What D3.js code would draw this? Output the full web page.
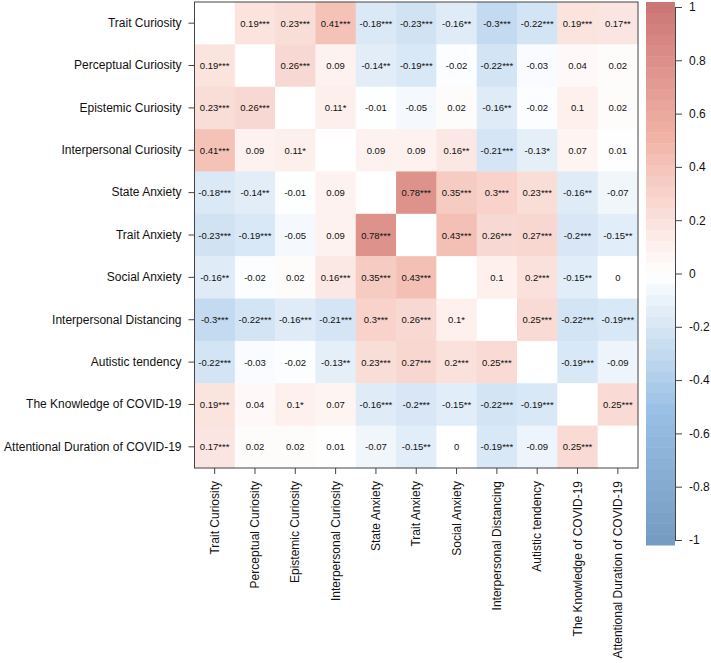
<!DOCTYPE html>
<html>
<head>
<meta charset="utf-8">
<script src="https://cdn.jsdelivr.net/npm/d3@7"></script>
<style>
 body { margin:0; background:#fff; }
 text { font-family: "Liberation Sans", Arial, sans-serif; fill:#111; }
</style>
</head>
<body>
<div id="chart"></div>
<script>
// variables (row / column order)
var variables = ["Trait Curiosity","Perceptual Curiosity","Epistemic Curiosity","Interpersonal Curiosity",
    "State Anxiety","Trait Anxiety","Social Anxiety","Interpersonal Distancing","Autistic tendency",
    "The Knowledge of COVID-19","Attentional Duration of COVID-19"];

// correlation values, null = diagonal (blank)
var corr = [
 [null, 0.19, 0.23, 0.41,-0.18,-0.23,-0.16,-0.30,-0.22, 0.19, 0.17],
 [0.19, null, 0.26, 0.09,-0.14,-0.19,-0.02,-0.22,-0.03, 0.04, 0.02],
 [0.23, 0.26, null, 0.11,-0.01,-0.05, 0.02,-0.16,-0.02, 0.10, 0.02],
 [0.41, 0.09, 0.11, null, 0.09, 0.09, 0.16,-0.21,-0.13, 0.07, 0.01],
 [-0.18,-0.14,-0.01, 0.09, null, 0.78, 0.35, 0.30, 0.23,-0.16,-0.07],
 [-0.23,-0.19,-0.05, 0.09, 0.78, null, 0.43, 0.26, 0.27,-0.20,-0.15],
 [-0.16,-0.02, 0.02, 0.16, 0.35, 0.43, null, 0.10, 0.20,-0.15, 0.00],
 [-0.30,-0.22,-0.16,-0.21, 0.30, 0.26, 0.10, null, 0.25,-0.22,-0.19],
 [-0.22,-0.03,-0.02,-0.13, 0.23, 0.27, 0.20, 0.25, null,-0.19,-0.09],
 [0.19, 0.04, 0.10, 0.07,-0.16,-0.20,-0.15,-0.22,-0.19, null, 0.25],
 [0.17, 0.02, 0.02, 0.01,-0.07,-0.15, 0.00,-0.19,-0.09, 0.25, null]
];

// significance stars as printed in each cell
var stars = [
 ["",   "***","***","***","***","***","**", "***","***","***","**"],
 ["***","",   "***","",   "**", "***","",   "***","",   "",   ""],
 ["***","***","",   "*",  "",   "",   "",   "**", "",   "",   ""],
 ["***","",   "*",  "",   "",   "",   "**", "***","*",  "",   ""],
 ["***","**", "",   "",   "",   "***","***","***","***","**", ""],
 ["***","***","",   "",   "***","",   "***","***","***","***","**"],
 ["**", "",   "",   "***","***","***","",   "",   "***","**", ""],
 ["***","***","***","***","***","***","*",  "",   "***","***","***"],
 ["***","",   "",   "**", "***","***","***","***","",   "***",""],
 ["***","",   "*",  "",   "***","***","**", "***","***","",   "***"],
 ["***","",   "",   "",   "",   "**", "",   "***","",   "***",""]
];

var legendTicks = [1,0.8,0.6,0.4,0.2,0,-0.2,-0.4,-0.6,-0.8,-1];

var W = 711, H = 663;
var gLeft = 194.5, gTop = 2, gw = 443.5, gh = 466;

var svg = d3.select("#chart").append("svg")
    .attr("width", W).attr("height", H);

// palette (faded, like alpha 0.7 over white)
var base = d3.scaleLinear()
    .domain([-1,-0.5,0,0.5,1])
    .range(["#4477AA","#77AADD","#FFFFFF","#EE9988","#BB4444"])
    .interpolate(d3.interpolateRgb);
function col(v) { return d3.interpolateRgb("#FFFFFF", base(v))(0.73); }

var x = d3.scaleBand().domain(variables).range([gLeft, gLeft+gw]);
var y = d3.scaleBand().domain(variables).range([gTop, gTop+gh]);

var cells = [];
corr.forEach(function(row,i) {
    row.forEach(function(v,j) { cells.push({i:i, j:j, v:v, s:stars[i][j]}); });
});

svg.append("g").selectAll("rect")
    .data(cells).enter().append("rect")
    .attr("x", function(d) { return x(variables[d.j]); })
    .attr("y", function(d) { return y(variables[d.i]); })
    .attr("width", x.bandwidth()+0.4)
    .attr("height", y.bandwidth()+0.4)
    .attr("fill", function(d) { return d.v === null ? "#fff" : col(d.v); });

svg.append("g").selectAll("text")
    .data(cells.filter(function(d) { return d.v !== null; }))
    .enter().append("text")
    .attr("x", function(d) { return x(variables[d.j]) + x.bandwidth()/2; })
    .attr("y", function(d) { return y(variables[d.i]) + y.bandwidth()/2; })
    .attr("text-anchor","middle")
    .attr("dominant-baseline","central")
    .style("font-size","9.5px")
    .text(function(d) { return String(d.v) + d.s; });

// box
svg.append("rect")
    .attr("x", gLeft).attr("y", gTop).attr("width", gw).attr("height", gh)
    .attr("fill","none").attr("stroke","#444").attr("stroke-width",1);

// y axis
var yAxis = svg.append("g")
    .attr("transform","translate("+gLeft+",0)")
    .call(d3.axisLeft(y).tickSize(6).tickPadding(7));
yAxis.select(".domain").remove();
yAxis.selectAll("line").attr("stroke","#444");
yAxis.selectAll("text").style("font-size","12px").attr("fill","#111");

// x axis
var xAxis = svg.append("g")
    .attr("transform","translate(0,"+(gTop+gh)+")")
    .call(d3.axisBottom(x).tickSize(6));
xAxis.select(".domain").remove();
xAxis.selectAll("line").attr("stroke","#444");
xAxis.selectAll("text")
    .style("font-size","12px").attr("fill","#111")
    .attr("transform","rotate(-90)")
    .attr("text-anchor","end")
    .attr("x",-13).attr("y",0).attr("dy","0.35em");

// colour legend
var lx = 646, lw = 29, lTop = 2, lBot = 545;
var ly = d3.scaleLinear().domain([1,-1]).range([7,540]);
var nb = 50, bh = (lBot-lTop)/nb;
var bands = d3.range(nb);
svg.append("g").selectAll("rect")
    .data(bands).enter().append("rect")
    .attr("x", lx).attr("width", lw)
    .attr("y", function(d) { return lTop + d*bh; })
    .attr("height", bh+0.5)
    .attr("fill", function(d) { return col(ly.invert(lTop + (d+0.5)*bh)); });

var lAxis = svg.append("g")
    .attr("transform","translate("+(lx+lw)+",0)")
    .call(d3.axisRight(ly).tickValues(legendTicks).tickSize(7).tickPadding(7)
        .tickFormat(function(d) { return String(+d.toFixed(1)); }));
lAxis.select(".domain").attr("stroke","#444");
lAxis.selectAll("line").attr("stroke","#444");
lAxis.selectAll("text").style("font-size","12px").attr("fill","#111");
</script>
</body>
</html>
